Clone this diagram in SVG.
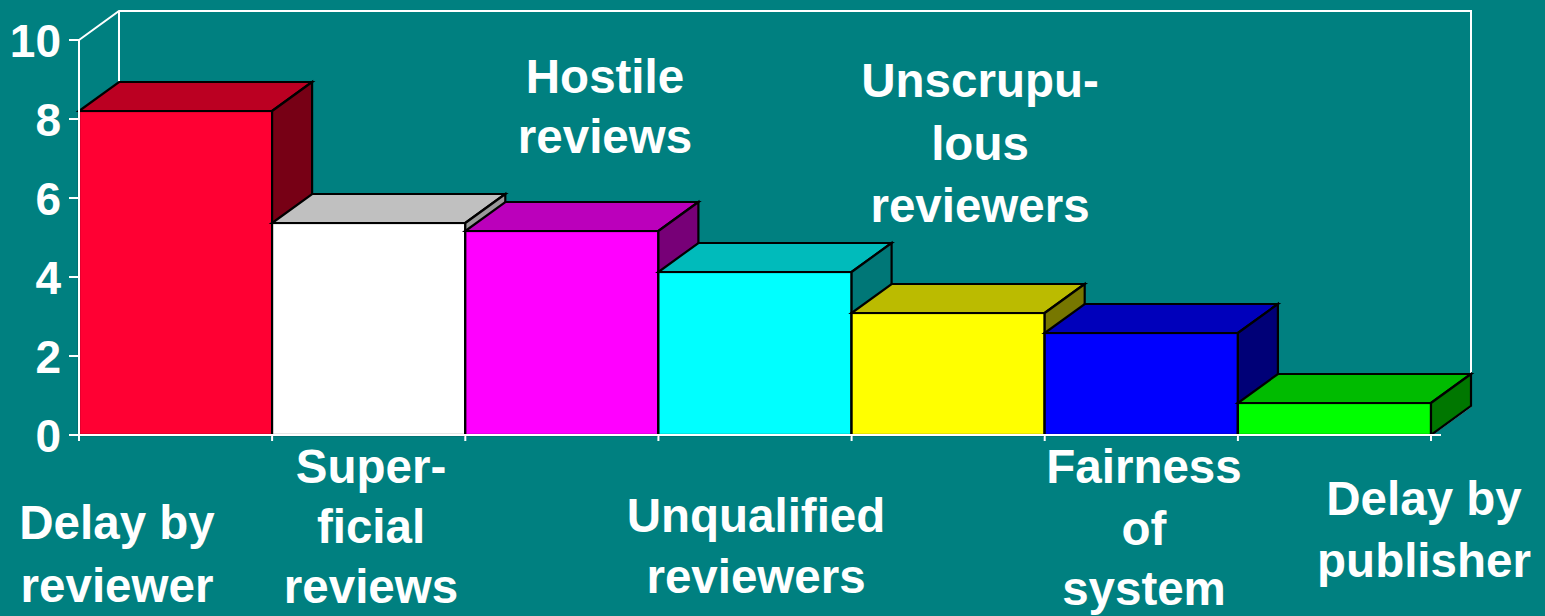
<svg xmlns="http://www.w3.org/2000/svg" width="1545" height="616" viewBox="0 0 1545 616">
<style>
.wall{fill:none;stroke:#FFFFFF;stroke-width:2}
.ax{fill:none;stroke:#FFFFFF;stroke-width:2}
.bar polygon,.bar rect{stroke:#000000;stroke-width:2.2;stroke-linejoin:miter}
.lbl{font-family:"Liberation Sans",Arial,sans-serif;font-weight:bold;font-size:47.5px;fill:#FFFFFF;text-anchor:middle}
.num{font-family:"Liberation Sans",Arial,sans-serif;font-weight:bold;font-size:46px;fill:#FFFFFF;text-anchor:end}
</style>
<rect x="0" y="0" width="1545" height="616" fill="#008080"/>
<g id="back-wall">
<polyline class="wall" points="79,40 119,11 1471,11 1471,406 1431,435"/>
<line class="wall" x1="119" y1="11" x2="119" y2="406"/>
</g>
<g id="bar-delay-reviewer" class="bar">
<rect x="79" y="111" width="193.1" height="324" fill="#FF0033"/>
<polygon points="79,111 272.1,111 312.1,82 119,82" fill="#BB0022"/>
<polygon points="272.1,111 312.1,82 312.1,406 272.1,435" fill="#770015"/>
</g>
<g id="bar-superficial" class="bar">
<rect x="272.1" y="223" width="193.2" height="212" fill="#FFFFFF"/>
<polygon points="272.1,223 465.3,223 505.3,194 312.1,194" fill="#C0C0C0"/>
<polygon points="465.3,223 505.3,194 505.3,406 465.3,435" fill="#999999"/>
</g>
<g id="bar-hostile" class="bar">
<rect x="465.3" y="231" width="193.1" height="204" fill="#FF00FF"/>
<polygon points="465.3,231 658.4,231 698.4,202 505.3,202" fill="#BB00BB"/>
<polygon points="658.4,231 698.4,202 698.4,406 658.4,435" fill="#770077"/>
</g>
<g id="bar-unqualified" class="bar">
<rect x="658.4" y="272" width="193.2" height="163" fill="#00FFFF"/>
<polygon points="658.4,272 851.6,272 891.6,243 698.4,243" fill="#00BBBB"/>
<polygon points="851.6,272 891.6,243 891.6,406 851.6,435" fill="#007777"/>
</g>
<g id="bar-unscrupulous" class="bar">
<rect x="851.6" y="313" width="193.1" height="122" fill="#FFFF00"/>
<polygon points="851.6,313 1044.7,313 1084.7,284 891.6,284" fill="#BBBB00"/>
<polygon points="1044.7,313 1084.7,284 1084.7,406 1044.7,435" fill="#777700"/>
</g>
<g id="bar-fairness" class="bar">
<rect x="1044.7" y="333" width="193.2" height="102" fill="#0000FF"/>
<polygon points="1044.7,333 1237.9,333 1277.9,304 1084.7,304" fill="#0000BB"/>
<polygon points="1237.9,333 1277.9,304 1277.9,406 1237.9,435" fill="#000077"/>
</g>
<g id="bar-delay-publisher" class="bar">
<rect x="1237.9" y="403" width="193.1" height="32" fill="#00FF00"/>
<polygon points="1237.9,403 1431,403 1471,374 1277.9,374" fill="#00BB00"/>
<polygon points="1431,403 1471,374 1471,406 1431,435" fill="#007700"/>
</g>
<g id="axes">
<line class="ax" x1="79" y1="40" x2="79" y2="441"/>
<line class="ax" x1="69" y1="435" x2="1441" y2="435"/>
<path class="ax" d="M69,40H79M69,119H79M69,198H79M69,277H79M69,356H79"/>
<path class="ax" d="M272.1,435V441M465.3,435V441M658.4,435V441M851.6,435V441M1044.7,435V441M1237.9,435V441M1431,435V441"/>
</g>
<g id="y-labels">
<text class="num" x="61" y="57">10</text>
<text class="num" x="61" y="136">8</text>
<text class="num" x="61" y="215">6</text>
<text class="num" x="61" y="294">4</text>
<text class="num" x="61" y="373">2</text>
<text class="num" x="61" y="452">0</text>
</g>
<g id="category-labels">
<text class="lbl" x="117" y="539">Delay by</text>
<text class="lbl" x="117" y="602">reviewer</text>
<text class="lbl" x="371" y="483">Super-</text>
<text class="lbl" x="371" y="543">ficial</text>
<text class="lbl" x="371" y="603">reviews</text>
<text class="lbl" x="605" y="93">Hostile</text>
<text class="lbl" x="605" y="153">reviews</text>
<text class="lbl" x="756" y="532">Unqualified</text>
<text class="lbl" x="756" y="593">reviewers</text>
<text class="lbl" x="980" y="97">Unscrupu-</text>
<text class="lbl" x="980" y="160">lous</text>
<text class="lbl" x="980" y="222">reviewers</text>
<text class="lbl" x="1144" y="483">Fairness</text>
<text class="lbl" x="1144" y="545">of</text>
<text class="lbl" x="1144" y="605">system</text>
<text class="lbl" x="1424" y="515">Delay by</text>
<text class="lbl" x="1424" y="577">publisher</text>
</g>
</svg>
